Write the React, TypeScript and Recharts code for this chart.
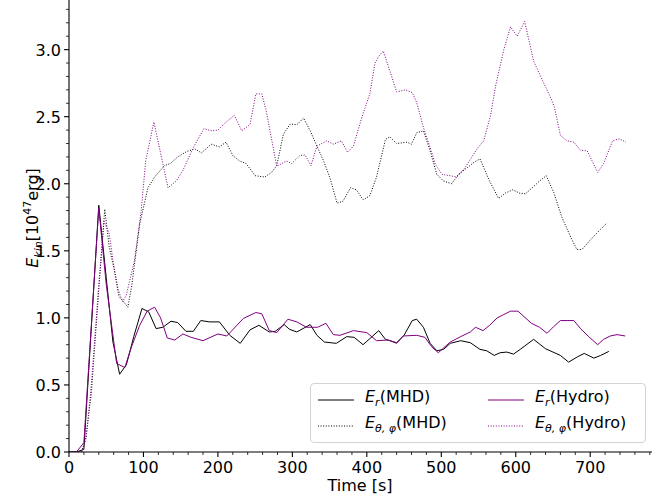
import { LineChart, Line, XAxis, YAxis } from 'recharts';

// [time in s, energy in 1e47 erg]
const erMhd: [number, number][] = [
  [0, 0], [10, 0], [20, 0.02], [40, 1.84], [50, 1.3], [59, 0.82], [68, 0.58], [77, 0.65], [87, 0.86],
  [98, 1.07], [107, 1.045], [117, 0.92], [126, 0.93], [137, 0.975], [146, 0.965], [157, 0.9], [167, 0.9],
  [177, 0.98], [189, 0.97], [202, 0.97], [216, 0.87], [230, 0.81], [243, 0.91], [255, 0.945], [269, 0.895],
  [277, 0.9], [289, 0.95], [296, 0.915], [306, 0.895], [324, 0.95], [333, 0.87], [343, 0.82], [359, 0.81],
  [373, 0.86], [383, 0.855], [395, 0.8], [416, 0.905], [425, 0.84], [440, 0.815], [450, 0.87], [461, 0.98],
  [467, 0.99], [476, 0.93], [485, 0.81], [494, 0.755], [503, 0.765], [512, 0.81], [526, 0.83], [539, 0.815],
  [552, 0.765], [561, 0.755], [571, 0.72], [579, 0.74], [588, 0.745], [597, 0.73], [606, 0.765], [624, 0.84],
  [640, 0.77], [660, 0.72], [671, 0.67], [683, 0.71], [692, 0.735], [705, 0.7], [714, 0.72], [725, 0.75],
];

const etpMhd: [number, number][] = [
  [0, 0], [10, 0], [17, 0], [23, 0.12], [30, 0.44], [39, 1.13], [48, 1.81], [54, 1.53], [61, 1.35],
  [67, 1.16], [72, 1.13], [79, 1.08], [84, 1.23], [95, 1.7], [106, 1.97], [115, 2.05], [128, 2.135],
  [136, 2.15], [146, 2.2], [158, 2.24], [169, 2.26], [178, 2.23], [191, 2.295], [202, 2.275], [211, 2.31],
  [220, 2.21], [229, 2.17], [238, 2.15], [250, 2.06], [263, 2.05], [272, 2.085], [279, 2.135], [288, 2.37],
  [297, 2.445], [306, 2.44], [315, 2.49], [324, 2.395], [333, 2.28], [342, 2.17], [351, 2.035], [360, 1.855],
  [368, 1.87], [378, 1.97], [386, 1.955], [395, 1.88], [404, 1.91], [413, 2.05], [425, 2.33], [431, 2.35],
  [440, 2.3], [454, 2.31], [460, 2.295], [467, 2.38], [476, 2.395], [485, 2.245], [494, 2.07], [503, 2.02],
  [514, 2.0], [523, 2.07], [535, 2.12], [544, 2.16], [552, 2.185], [564, 2.03], [577, 1.89], [586, 1.93],
  [596, 1.955], [605, 1.93], [613, 1.925], [622, 1.97], [632, 2.02], [641, 2.06], [651, 1.935], [662, 1.75],
  [674, 1.6], [682, 1.51], [689, 1.51], [700, 1.58], [712, 1.65], [723, 1.71],
];

const erHydro: [number, number][] = [
  [0, 0], [10, 0], [20, 0.07], [40, 1.82], [50, 1.25], [64, 0.66], [75, 0.63], [84, 0.785], [95, 0.945],
  [105, 1.05], [115, 1.08], [123, 1.0], [132, 0.85], [142, 0.835], [153, 0.88], [164, 0.855], [180, 0.83],
  [200, 0.88], [212, 0.865], [234, 0.995], [251, 1.04], [259, 1.03], [269, 0.905], [279, 0.89], [294, 0.99],
  [306, 0.97], [319, 0.93], [334, 0.93], [345, 0.96], [355, 0.875], [364, 0.87], [382, 0.905], [400, 0.89],
  [413, 0.83], [429, 0.835], [440, 0.81], [449, 0.865], [467, 0.87], [478, 0.855], [487, 0.785], [496, 0.74],
  [512, 0.82], [526, 0.86], [539, 0.895], [546, 0.93], [556, 0.905], [565, 0.945], [575, 1.0], [584, 1.025],
  [593, 1.05], [603, 1.05], [611, 1.01], [621, 0.96], [632, 0.93], [642, 0.885], [651, 0.935], [660, 0.98],
  [669, 0.98], [678, 0.98], [687, 0.92], [698, 0.86], [710, 0.8], [718, 0.84], [727, 0.865], [736, 0.875],
  [747, 0.865],
];

const etpHydro: [number, number][] = [
  [0, 0], [10, 0], [17, 0], [23, 0.1], [30, 0.5], [40, 1.25], [47, 1.72], [54, 1.63], [59, 1.43],
  [66, 1.21], [72, 1.12], [77, 1.17], [88, 1.43], [97, 1.8], [103, 2.17], [114, 2.46], [133, 1.97],
  [144, 2.02], [153, 2.1], [167, 2.27], [181, 2.41], [191, 2.395], [200, 2.4], [211, 2.46], [222, 2.51],
  [232, 2.395], [243, 2.44], [251, 2.67], [259, 2.67], [265, 2.54], [279, 2.13], [292, 2.17], [299, 2.15],
  [310, 2.21], [317, 2.215], [325, 2.135], [333, 2.28], [346, 2.32], [355, 2.295], [366, 2.32], [374, 2.235],
  [382, 2.28], [393, 2.49], [404, 2.67], [411, 2.9], [416, 2.95], [422, 2.99], [431, 2.84], [440, 2.685],
  [452, 2.7], [461, 2.68], [467, 2.605], [476, 2.42], [485, 2.27], [492, 2.145], [501, 2.07], [512, 2.06],
  [521, 2.05], [532, 2.12], [548, 2.26], [557, 2.32], [566, 2.505], [573, 2.73], [584, 3.0], [593, 3.17],
  [602, 3.1], [612, 3.21], [624, 2.915], [636, 2.77], [647, 2.64], [652, 2.57], [660, 2.36], [669, 2.32],
  [678, 2.31], [687, 2.25], [696, 2.245], [710, 2.085], [718, 2.15], [730, 2.32], [739, 2.335], [748, 2.31],
];

const xTicks = Array.from({ length: 40 }, (_, i) => i * 20);
const yTicks = Array.from({ length: 34 }, (_, i) => i / 10);

const BLACK = '#000000';
const PURPLE = '#800080';
const DOTS = '1 1.6';
const FONT = "'DejaVu Sans', sans-serif";

const toRows = (pts: [number, number][]) => pts.map(([t, e]) => ({ t, e }));

function XTick(props: any) {
  const { x, y, payload } = props;
  const major = payload.value % 100 === 0;
  return (
    <g>
      <line x1={x} x2={x} y1={y} y2={y + (major ? 5 : 3)} stroke={BLACK} strokeWidth={major ? 1.1 : 0.8} />
      {major && (
        <text x={x} y={y + 21} textAnchor="middle" fontSize={16} fontFamily={FONT} fill={BLACK}>
          {payload.value}
        </text>
      )}
    </g>
  );
}

function YTick(props: any) {
  const { x, y, payload } = props;
  const major = Math.round(payload.value * 10) % 5 === 0;
  return (
    <g>
      <line x1={x - (major ? 5 : 3)} x2={x} y1={y} y2={y} stroke={BLACK} strokeWidth={major ? 1.1 : 0.8} />
      {major && (
        <text x={x - 8} y={y + 6} textAnchor="end" fontSize={16} fontFamily={FONT} fill={BLACK}>
          {payload.value.toFixed(1)}
        </text>
      )}
    </g>
  );
}

function Sample({ color, dashed }: { color: string; dashed?: boolean }) {
  return (
    <svg width={36} height={4} style={{ display: 'block' }}>
      <line x1={0} x2={36} y1={2} y2={2} stroke={color} strokeWidth={1} strokeDasharray={dashed ? DOTS : undefined} />
    </svg>
  );
}

function LegendItem({ left, top, color, dashed, sub, run }: any) {
  return (
    <div style={{ position: 'absolute', left, top, display: 'flex', alignItems: 'center', height: 22 }}>
      <Sample color={color} dashed={dashed} />
      <span style={{ marginLeft: 11, fontSize: 16, whiteSpace: 'nowrap', lineHeight: '22px' }}>
        <i>E</i>
        <sub style={{ fontSize: 11, fontStyle: 'italic', verticalAlign: '-4px' }}>{sub}</sub>({run})
      </span>
    </div>
  );
}

function YTitle() {
  // rotated HTML block, centred on (28, 218)
  return (
    <div
      style={{
        position: 'absolute',
        left: 28 - 100,
        top: 218 - 12,
        width: 200,
        height: 24,
        lineHeight: '24px',
        textAlign: 'center',
        fontSize: 16,
        color: BLACK,
        whiteSpace: 'nowrap',
        transform: 'rotate(-90deg)',
        transformOrigin: '50% 50%',
      }}
    >
      <i>E</i>
      <sub style={{ fontSize: 11, fontStyle: 'italic', verticalAlign: '-4px' }}>kin</sub>
      [10<sup style={{ fontSize: 11, verticalAlign: '7px' }}>47</sup>erg]
    </div>
  );
}

function XTitle() {
  return (
    <div
      style={{
        position: 'absolute',
        left: 260,
        top: 477,
        width: 200,
        textAlign: 'center',
        fontSize: 16,
        lineHeight: '18px',
        color: BLACK,
      }}
    >
      Time [s]
    </div>
  );
}

export default function App() {
  return (
    <div style={{ position: 'absolute', left: 0, top: 0, width: 670, height: 499, background: '#fff', fontFamily: FONT }}>
      <LineChart width={670} height={499} margin={{ top: 0, right: 18, bottom: 0, left: 0 }}>
        <XAxis
          dataKey="t"
          type="number"
          domain={[0, 783]}
          ticks={xTicks}
          interval={0}
          allowDataOverflow
          height={47}
          tickSize={0}
          tickMargin={0}
          tickLine={false}
          tick={<XTick />}
          axisLine={{ stroke: BLACK, strokeWidth: 1.1 }}
        />
        <YAxis
          type="number"
          domain={[0, 3.37]}
          ticks={yTicks}
          interval={0}
          allowDataOverflow
          width={69}
          tickSize={0}
          tickMargin={0}
          tickLine={false}
          tick={<YTick />}
          axisLine={{ stroke: BLACK, strokeWidth: 1.1 }}
        />
        <YAxis
          yAxisId="right"
          orientation="right"
          type="number"
          domain={[0, 3.37]}
          width={0}
          tick={false}
          tickLine={false}
          axisLine={{ stroke: BLACK, strokeWidth: 1.1 }}
        />
        <Line data={toRows(erMhd)} dataKey="e" type="linear" stroke={BLACK} strokeWidth={1} dot={false} isAnimationActive={false} />
        <Line data={toRows(etpMhd)} dataKey="e" type="linear" stroke={BLACK} strokeWidth={1} strokeDasharray={DOTS} dot={false} isAnimationActive={false} />
        <Line data={toRows(erHydro)} dataKey="e" type="linear" stroke={PURPLE} strokeWidth={1} dot={false} isAnimationActive={false} />
        <Line data={toRows(etpHydro)} dataKey="e" type="linear" stroke={PURPLE} strokeWidth={1} strokeDasharray={DOTS} dot={false} isAnimationActive={false} />
      </LineChart>
      <YTitle />
      <XTitle />
      <div
        style={{
          position: 'absolute',
          left: 310,
          top: 383,
          width: 336,
          height: 60,
          border: '1px solid #d3d3d3',
          borderRadius: 4,
          background: 'rgba(255,255,255,0.8)',
          boxSizing: 'border-box',
        }}
      >
        <LegendItem left={7} top={5} color={BLACK} sub="r" run="MHD" />
        <LegendItem left={7} top={31} color={BLACK} dashed sub="θ, φ" run="MHD" />
        <LegendItem left={177} top={5} color={PURPLE} sub="r" run="Hydro" />
        <LegendItem left={177} top={31} color={PURPLE} dashed sub="θ, φ" run="Hydro" />
      </div>
    </div>
  );
}
